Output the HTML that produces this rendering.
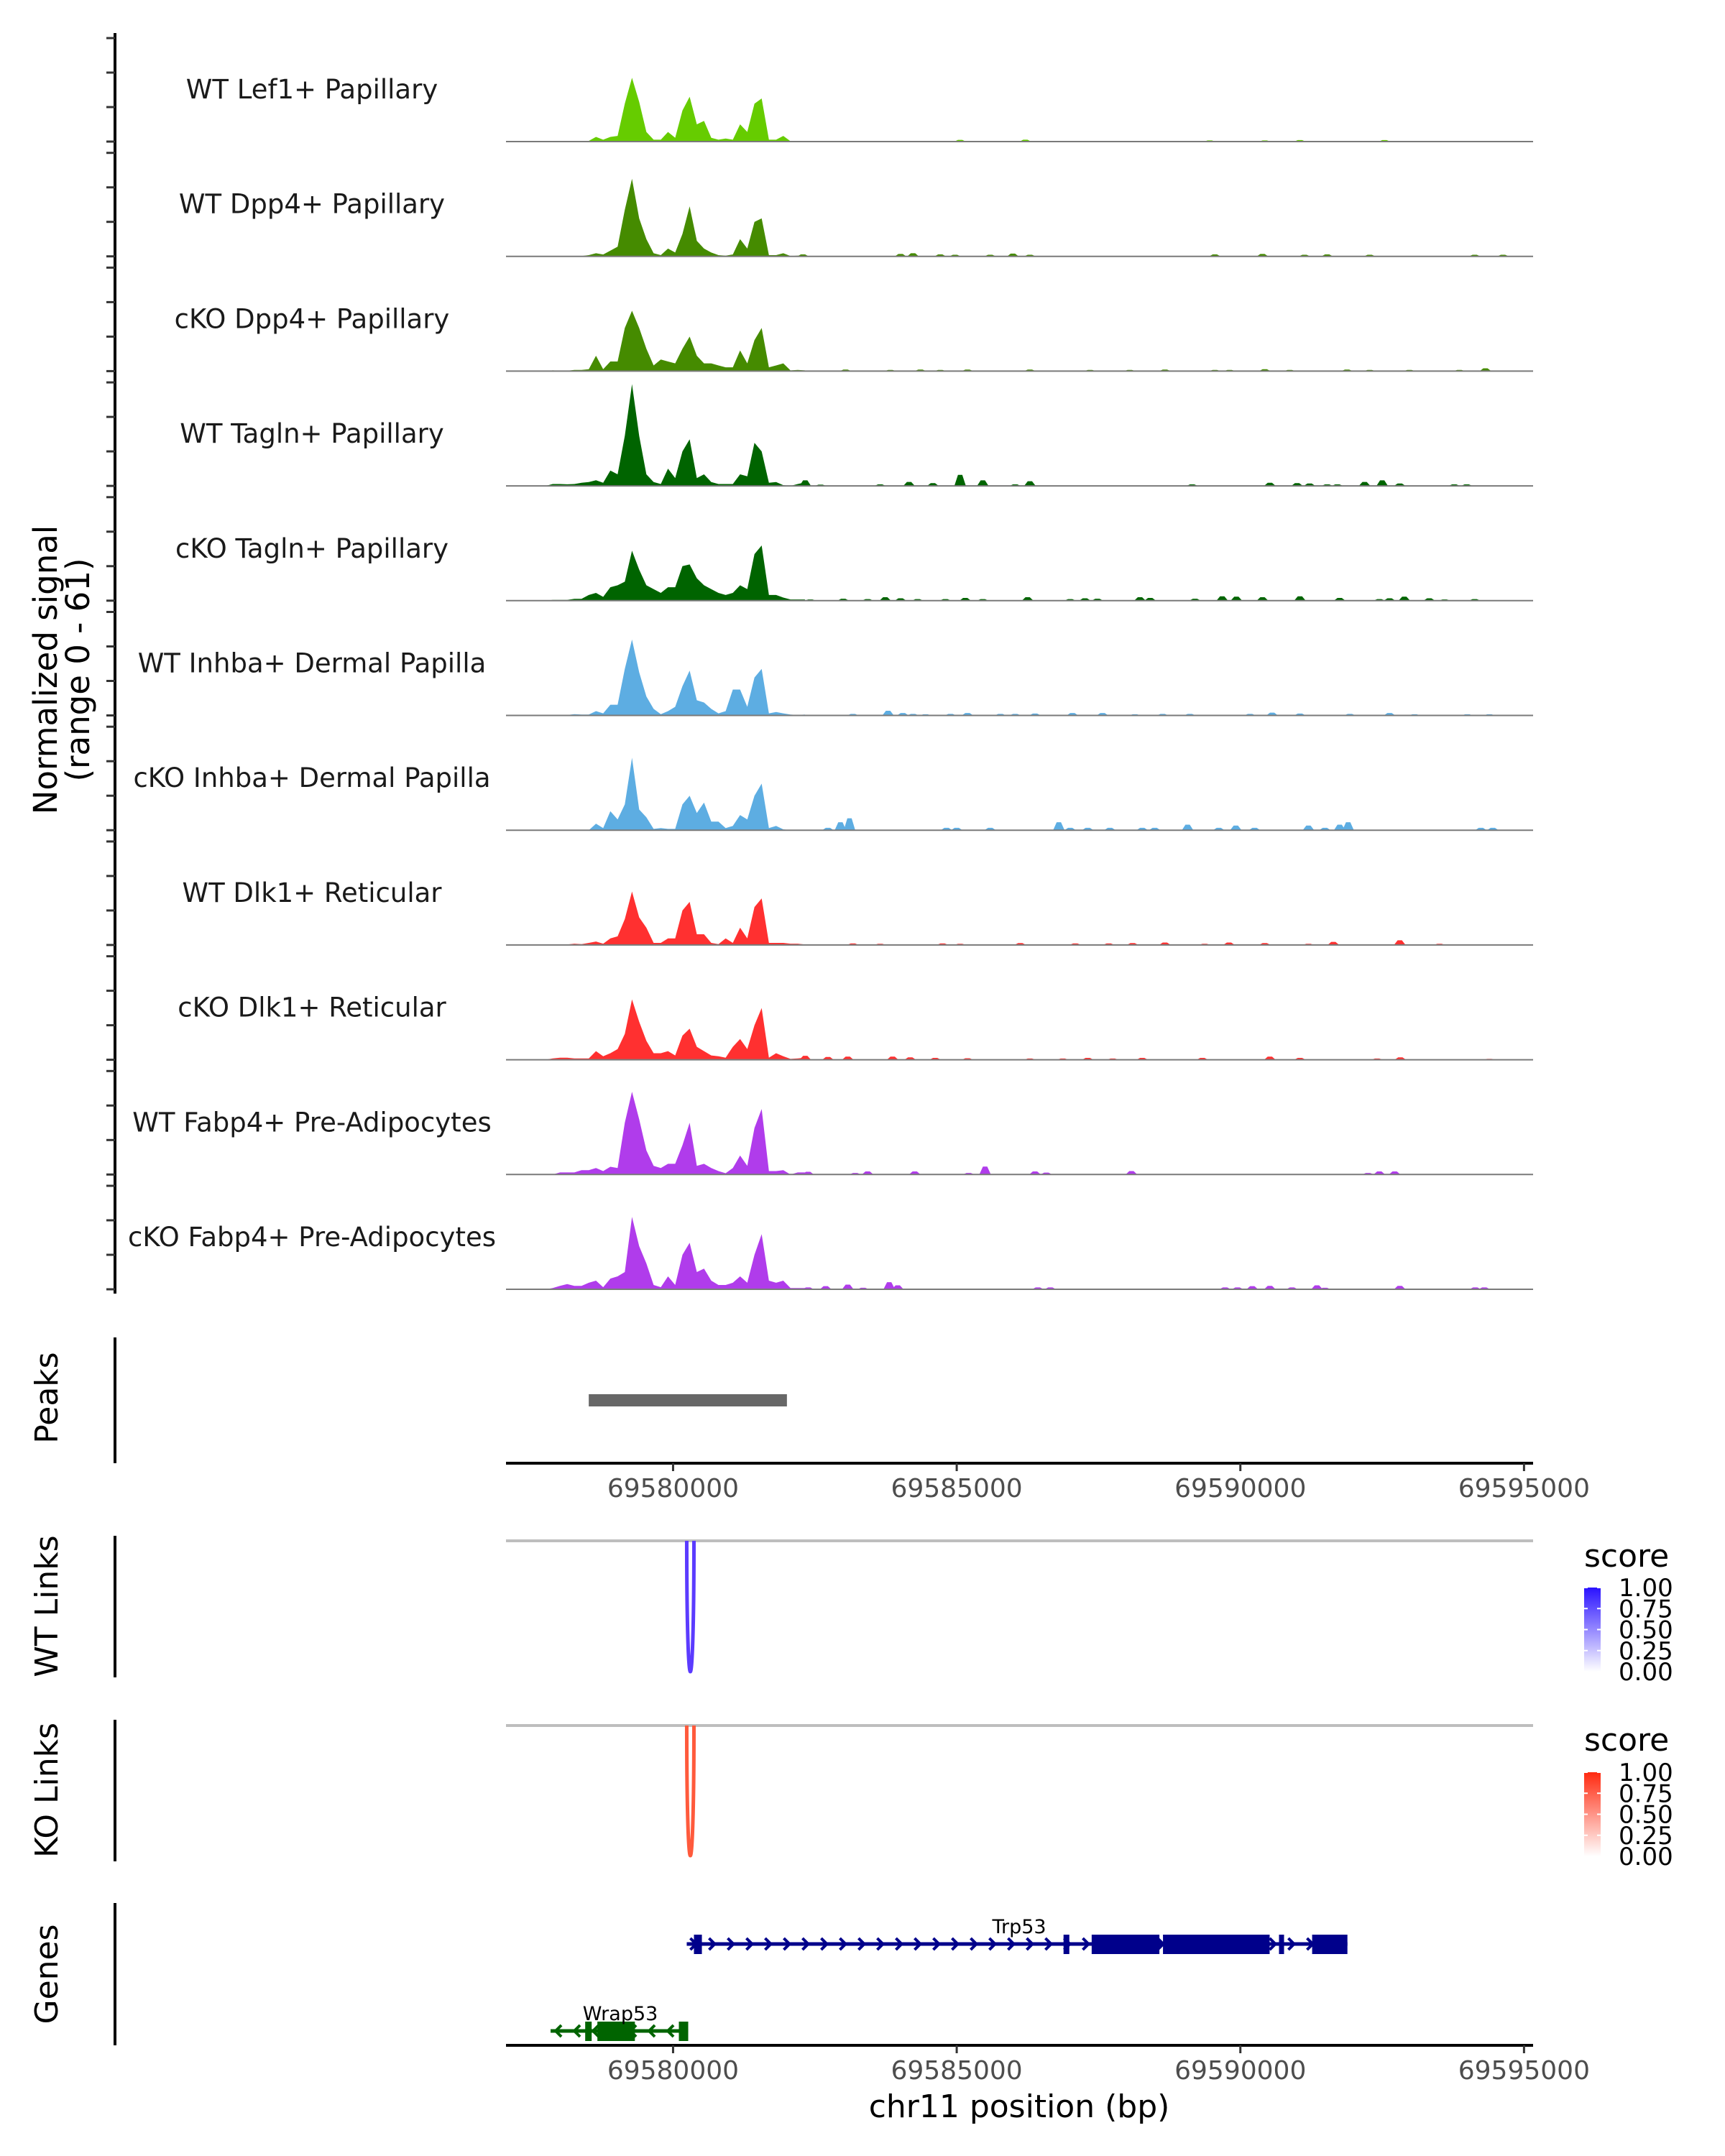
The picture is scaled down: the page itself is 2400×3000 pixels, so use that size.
<!DOCTYPE html>
<html><head><meta charset="utf-8">
<style>
html,body{margin:0;padding:0;background:#fff;}
svg{display:block;font-family:"DejaVu Sans","Liberation Sans",sans-serif;}
</style></head>
<body>
<svg id="chart" width="2400" height="3000" viewBox="0 0 2400 3000" xmlns="http://www.w3.org/2000/svg">
<rect x="0" y="0" width="2400" height="3000" fill="#fff"/>
<defs>
<linearGradient id="gradWT" x1="0" y1="1" x2="0" y2="0"><stop offset="0" stop-color="#ffffff"/><stop offset="1" stop-color="#2a12ff"/></linearGradient>
<linearGradient id="gradKO" x1="0" y1="1" x2="0" y2="0"><stop offset="0" stop-color="#ffffff"/><stop offset="1" stop-color="#ff2a10"/></linearGradient>
</defs>
<g id="layer"></g>
</svg>
<script>
// ---- data ----
const trackNames = ["WT Lef1+ Papillary","WT Dpp4+ Papillary","cKO Dpp4+ Papillary","WT Tagln+ Papillary","cKO Tagln+ Papillary","WT Inhba+ Dermal Papilla","cKO Inhba+ Dermal Papilla","WT Dlk1+ Reticular","cKO Dlk1+ Reticular","WT Fabp4+ Pre-Adipocytes","cKO Fabp4+ Pre-Adipocytes"];
const trackColors = ["#66cc00","#458b00","#458b00","#006400","#006400","#5dade2","#5dade2","#ff3030","#ff3030","#b03ceb","#b03ceb"];
const mainStart = 69577752;
const mainStep = 127;
const main0 = [0,.4,.4,.4,.4,.4,.4,2.7,1.1,2.7,3.3,22,37,23,5.6,1.1,1.1,5.6,2.2,18,26,10,12,2.2,1.1,1.8,1.1,10,5.6,22,25,1.1,1.1,3.3,.2,.2,.2];
const main1 = [0,0,.2,.2,.2,.2,.7,1.8,1.1,3.3,5.6,27,45,22,10,1.8,.7,4.5,2.2,13,29,9,4.5,2.2,.7,.4,1.1,10,4.5,20,22,.7,.7,1.8,.2,.4,.4];
const main2 = [0,.4,.2,.2,.7,.7,1.1,8.9,1.1,5.6,5.6,25,35,25,13,3.3,6.7,5.6,4.5,13,20,8.9,4.5,4.5,3.3,2.2,2.2,12,4.5,18,25,2.2,3.3,4.5,.4,.7,.4];
const main3 = [0,1.1,1.1,.9,1.1,1.8,2.2,3.3,1.8,8.9,6.7,29,59,29,6.7,2.2,1.1,10,4.5,20,27,4.5,6.7,2.2,1.1,1.1,1.1,6.7,5.6,25,20,1.8,2.2,.4,0,1.1,2];
const main4 = [0,.4,.4,.4,1.1,1.1,3.3,4.5,2.2,7.8,8.9,11,29,18,8.9,6.7,4.5,7.8,7.8,20,21,13,8.9,6.7,4.5,3.3,4.5,8.9,6.7,27,32,3.3,3.3,1.8,.7,.7,.7];
const main5 = [0,.25,.25,.25,.75,.5,.5,2.5,1.2,6.2,6.2,27,44,25,11,3.8,.75,2.5,5,17,26,8.8,7.5,3.8,1.2,2.5,15,15,5,22,27,1.2,2,1.2,.5,.25,.5];
const main6 = [0,0,0,0,0,0,0,3.8,1.2,11,6.2,15,42,12,7.5,.75,1.2,.75,.75,15,20,10,16,5,5,1.2,2.5,8.8,6.2,20,27,1.2,2.5,.5,0,0,0];
const main7 = [0,0,.25,.25,.75,.5,1.2,2,.75,3.8,5,15,31,16,10,1.2,1.2,3.8,3.8,20,25,6.2,6.2,1.2,.5,3.8,1.2,10,3.8,22,27,1.2,1.2,1.2,.75,.75,.25];
const main8 = [0,.75,1.2,1.2,.75,.75,.75,5,2,3.8,6.2,15,35,22,11,3.8,3.8,5,2.5,14,18,7.5,5,2.5,2,1.2,7.5,12,6.2,20,30,1.2,3.8,2,.5,.75,1.2];
const main9 = [0,0,1.2,1.2,1.2,2.5,2.5,3.8,2,4.5,3.8,30,48,32,14,5,3.8,6.2,6.2,17,30,5,6.2,3.8,2,.75,3.8,11,5,27,38,2,2,2.5,0,1.2,1.2];
const main10 = [0,.75,2,3,2,2,3.8,5,1.2,6.2,7.5,10,42,25,15,2.5,1.2,7.5,2.5,20,27,10,12,5,2.5,2.5,3.8,7.5,3.8,20,32,5,3.8,5,.75,.75,.75];
// small scattered bumps: positions (kb offset from 69580000) and signal
const bumpPos0 = [5.06,6.21,9.46,10.43,11.05,12.54];
const bumpVal0 = [1,1.1,.7,.7,.9,.9];
const bumpPos1 = [2.29,4.01,4.23,4.71,4.97,5.59,5.99,6.29,9.55,10.39,11.13,11.53,12.28,14.13,14.63];
const bumpVal1 = [1.1,1.4,1.8,1.1,.9,.9,1.6,.9,1.1,1.4,.9,1.1,.9,.9,.9];
const bumpPos2 = [3.04,3.83,4.36,4.71,5.19,6.29,7.35,8.05,8.67,9.55,9.81,10.43,10.87,11.88,12.28,12.98,13.86,14.32];
const bumpVal2 = [.9,.7,.9,.7,.9,.9,.7,.7,.9,.7,.7,1.1,.7,.9,.7,.7,.7,1.6];
const bumpPos3 = [2.33,2.6,3.65,4.16,4.58,5.06,5.46,6.03,6.29,9.15,10.52,11.0,11.22,11.53,11.71,12.19,12.5,12.81,13.77,13.99];
const bumpVal3 = [3.2,.7,.9,2.3,1.6,6.4,3.2,.9,2.7,.9,1.8,1.6,1.4,.9,.9,2.3,3.2,1.4,.9,.9];
const bumpPos4 = [2.42,3.0,3.43,3.74,4.01,4.31,4.8,5.15,5.46,6.25,7.0,7.26,7.48,8.23,8.41,9.2,9.68,9.93,10.39,11.05,11.75,12.45,12.63,12.89,13.33,13.6,14.13];
const bumpVal4 = [.7,1.1,.9,2,1.4,.9,.9,1.6,.9,2,.9,1.4,1.1,2,1.6,1.1,2.5,2.3,2,2.5,1.6,.9,1.4,2.3,1.4,.7,.9];
const bumpPos5 = [3.17,3.79,4.05,4.23,4.45,4.89,5.19,5.77,6.03,6.38,7.04,7.57,8.14,8.63,9.11,10.17,10.56,11.05,11.93,12.63,13.07,14.0,14.39];
const bumpVal5 = [.9,2.7,1.4,.9,.7,.9,1.4,.9,.9,1.1,1.4,1.4,.7,.9,.9,.9,1.6,1.1,.9,1.4,.7,.7,.7];
const bumpPos6 = [2.73,2.95,3.11,4.82,5.0,5.59,6.8,7.0,7.31,7.7,8.27,8.49,9.07,9.62,9.92,10.25,11.2,11.49,11.75,11.9,14.24,14.45];
const bumpVal6 = [1.4,4.6,6.9,1.4,1.4,1.4,4.6,1.4,1.4,1.4,1.4,1.4,3.2,1.4,2.7,1.4,2.7,1.4,3.2,4.6,1.4,1.4];
const bumpPos7 = [3.17,3.65,4.75,5.06,6.12,7.09,7.68,8.1,8.67,9.37,9.8,10.43,11.2,11.64,12.81,13.51];
const bumpVal7 = [.9,.7,.9,.7,1.1,.9,.9,1.1,1.4,.7,1.4,1.1,.7,1.8,2.7,.7];
const bumpPos8 = [2.33,2.73,3.08,3.87,4.18,4.62,5.19,6.29,6.87,7.31,7.75,8.27,9.33,10.52,11.05,12.41,12.82,14.39];
const bumpVal8 = [2.3,1.6,1.8,1.8,1.4,1.1,.9,.7,.7,1.1,.7,1.1,1.1,1.8,1.1,.7,1.4,.5];
const bumpPos9 = [2.38,3.21,3.43,4.26,5.21,5.5,6.38,6.58,8.08,12.25,12.45,12.72];
const bumpVal9 = [1.6,.9,1.8,1.8,.9,4.6,1.8,1.1,2,.9,1.8,1.8];
const bumpPos10 = [2.38,2.69,3.08,3.35,3.81,3.96,6.43,6.65,9.73,9.95,10.21,10.52,10.91,11.35,11.49,12.81,14.14,14.3];
const bumpVal10 = [1.1,1.8,2.7,.9,4.1,2.3,1.1,1.1,1.1,1.1,1.8,2,1.1,2.3,.9,2,1.1,1.1];
const yTickVals = [0,20,40,60];
const xTicks = [69580000,69585000,69590000,69595000];
const peakStarts = [69578514];
const peakEnds = [69582007];
const wtLinkStart = [69580241], wtLinkEnd = [69580368], wtLinkScore = [0.8];
const koLinkStart = [69580241], koLinkEnd = [69580368], koLinkScore = [0.7];
const legendTicks = ["0.00","0.25","0.50","0.75","1.00"];
const trp53Start = 69580241, trp53End = 69591887;
const trp53ExonStart = [69580368,69586883,69587379,69588636,69590681,69591265];
const trp53ExonEnd =   [69580508,69586985,69588573,69590516,69590770,69591887];
const wrap53Start = 69577841, wrap53End = 69580267;
const wrap53ExonStart = [69578451,69578666,69580102];
const wrap53ExonEnd =   [69578565,69579327,69580267];

// ---- scales ----
const mains = [main0,main1,main2,main3,main4,main5,main6,main7,main8,main9,main10];
const bPos = [bumpPos0,bumpPos1,bumpPos2,bumpPos3,bumpPos4,bumpPos5,bumpPos6,bumpPos7,bumpPos8,bumpPos9,bumpPos10];
const bVal = [bumpVal0,bumpVal1,bumpVal2,bumpVal3,bumpVal4,bumpVal5,bumpVal6,bumpVal7,bumpVal8,bumpVal9,bumpVal10];
const X0 = 704, X1 = 2133, G0 = 69577055, G1 = 69595160;
function x(p){ return X0 + (p - G0) * (X1 - X0) / (G1 - G0); }
function base(i){ return 197 + i * 159.7; }
function y(i, v){ return base(i) - v * 2.4; }

const NS = "http://www.w3.org/2000/svg";
const layer = document.getElementById("layer");
function mk(tag, attrs, parent){
  const e = document.createElementNS(NS, tag);
  for (const k in attrs) e.setAttribute(k, attrs[k]);
  (parent || layer).appendChild(e);
  return e;
}
function txt(s, attrs, parent){ const e = mk("text", attrs, parent); e.textContent = s; return e; }

// left signal axis
let e = mk("line",{x1:160,y1:46,x2:160,y2:1800,stroke:"#000","stroke-width":4});



for (let i = 0; i < trackNames.length; i++){
  const g = mk("g",{});
  
  
  yTickVals.forEach(v => {
    const t = mk("line",{x1:148,x2:160,y1:y(i,v),y2:y(i,v),stroke:"#333","stroke-width":3}, g);
    
    
  });
  const arr = mains[i];
  let pts = [[x(mainStart), base(i)]];
  arr.forEach((v,k) => pts.push([x(mainStart + k*mainStep), y(i,v)]));
  pts.push([x(mainStart + (arr.length-1)*mainStep), base(i)]);
  const poly = mk("polygon",{points: pts.map(p=>p[0].toFixed(1)+","+p[1].toFixed(1)).join(" "), fill: trackColors[i]}, g);
  
  
  bPos[i].forEach((p,k) => {
    const cx = x(69580000 + p*1000), v = bVal[i][k];
    const b = mk("polygon",{points:`${cx-8},${base(i)} ${cx-3},${y(i,v)} ${cx+3},${y(i,v)} ${cx+8},${base(i)}`, fill: trackColors[i]}, g);
    
    
  });
  const bl = mk("line",{x1:X0,x2:X1,y1:base(i),y2:base(i),stroke:"#7a7a7a","stroke-width":2}, g);
  
  
  const lb = txt(trackNames[i],{x:434,y:base(i)-60,"text-anchor":"middle","font-size":37,fill:"#1a1a1a"}, g);
  
  
}

// y title
e = txt("Normalized signal",{transform:"translate(79,932) rotate(-90)","text-anchor":"middle","font-size":45,fill:"#000"});


e = txt("(range 0 - 61)",{transform:"translate(124,932) rotate(-90)","text-anchor":"middle","font-size":45,fill:"#000"});



const panels = [["Peaks",1861,2036,1945],["WT Links",2137,2334,2235],["KO Links",2393,2590,2491],["Genes",2648,2846,2747]];
panels.forEach(pn => {
  const a = mk("line",{x1:160,x2:160,y1:pn[1],y2:pn[2],stroke:"#000","stroke-width":4});
  
  
  const t = txt(pn[0],{transform:`translate(80,${pn[3]}) rotate(-90)`,"text-anchor":"middle","font-size":44,fill:"#000"});
  
  
});

peakStarts.forEach((s,k) => {
  const r = mk("rect",{x:x(s),y:1940,width:x(peakEnds[k])-x(s),height:17,fill:"#676767"});
  
  
});

function xAxis(yy, name){
  const g = mk("g",{});
  
  
  mk("line",{x1:X0,x2:X1,y1:yy,y2:yy,stroke:"#000","stroke-width":4}, g);
  xTicks.forEach(t => {
    mk("line",{x1:x(t),x2:x(t),y1:yy,y2:yy+11,stroke:"#333","stroke-width":3}, g);
    const l = txt(String(t),{x:x(t),y:yy+47,"text-anchor":"middle","font-size":36,fill:"#4d4d4d"}, g);
    
    
  });
}
xAxis(2036,'peaks-x-axis');
xAxis(2846,'genes-x-axis');
e = txt("chr11 position (bp)",{x:1418,y:2946,"text-anchor":"middle","font-size":44,fill:"#000"});



function links(topY, botY, starts, ends, color, name){
  const gl = mk("line",{x1:X0,x2:X1,y1:topY,y2:topY,stroke:"#bebebe","stroke-width":4});
  
  
  starts.forEach((s,k) => {
    const a = x(s), b = x(ends[k]);
    const cy = topY + (botY - topY) / 0.75;
    const p = mk("path",{d:`M${a},${topY} C${a},${cy} ${b},${cy} ${b},${topY}`,fill:"none",stroke:color,"stroke-width":5});
    
    
  });
}
links(2144,2326,wtLinkStart,wtLinkEnd,"#5b3bff","wt-link");
links(2401,2582,koLinkStart,koLinkEnd,"#ff5a3c","ko-link");

function legend(titleY, barTop, grad, name){
  const g = mk("g",{});
  
  
  txt("score",{x:2204,y:titleY,"font-size":44,fill:"#000"}, g);
  mk("rect",{x:2204,y:barTop,width:23,height:117,fill:`url(#${grad})`}, g);
  legendTicks.forEach((t,k) => {
    const yy = barTop + 117 - k*117/4;
    mk("line",{x1:2204,x2:2209,y1:yy,y2:yy,stroke:"#fff","stroke-width":2}, g);
    mk("line",{x1:2222,x2:2227,y1:yy,y2:yy,stroke:"#fff","stroke-width":2}, g);
    txt(t,{x:2252,y:yy+12,"font-size":34,fill:"#000"}, g);
  });
}
legend(2180,2209,"gradWT","wt-score-legend");
legend(2436,2466,"gradKO","ko-score-legend");

function gene(start, end, exS, exE, yy, color, dir, label, labelX, labelY, name){
  const g = mk("g",{});
  
  
  mk("line",{x1:x(start),x2:x(end),y1:yy,y2:yy,stroke:color,"stroke-width":5}, g);
  for (let px = x(start)+10; px < x(end)-6; px += 26){
    const d = dir > 0 ? `M${px-5},${yy-8} L${px+3},${yy} L${px-5},${yy+8}` : `M${px+5},${yy-8} L${px-3},${yy} L${px+5},${yy+8}`;
    mk("path",{d:d,fill:"none",stroke:color,"stroke-width":4}, g);
  }
  exS.forEach((s,k) => mk("rect",{x:x(s),y:yy-13,width:Math.max(6,x(exE[k])-x(s)),height:27,fill:color}, g));
  const t = txt(label,{x:labelX,y:labelY,"text-anchor":"middle","font-size":27,fill:"#000"}, g);
  
  
}
gene(trp53Start,trp53End,trp53ExonStart,trp53ExonEnd,2705,"#00008b",1,"Trp53",1418,2690,"gene-trp53");
gene(wrap53Start,wrap53End,wrap53ExonStart,wrap53ExonEnd,2826,"#006400",-1,"Wrap53",863,2811,"gene-wrap53");
</script>
</body></html>
